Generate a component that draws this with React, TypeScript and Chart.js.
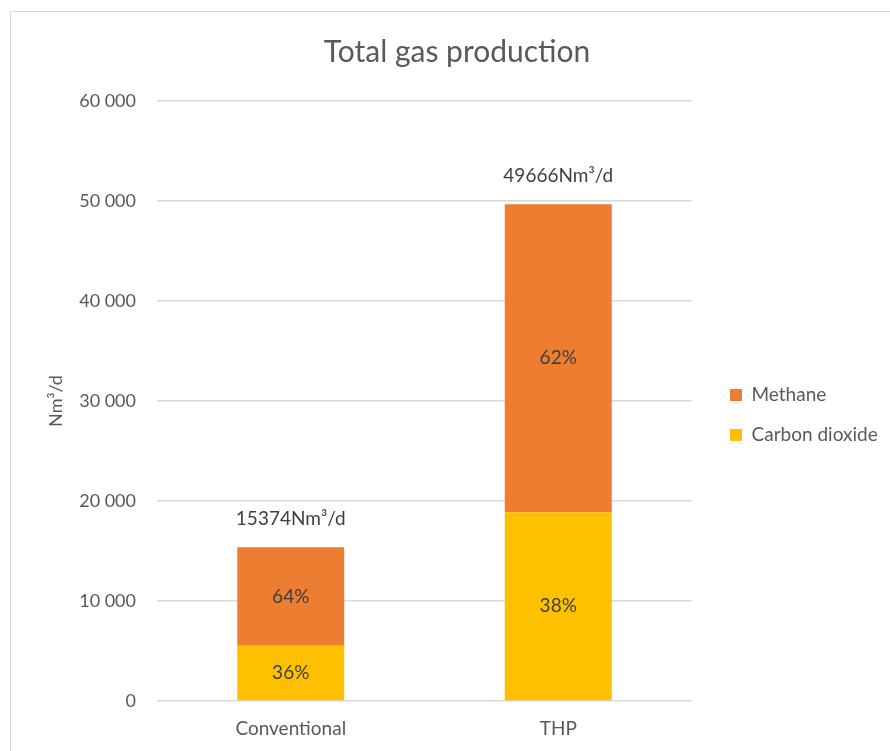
import React, { useEffect, useRef } from 'react';
import { Chart, registerables } from 'chart.js';

Chart.register(...registerables);

// ---- data ----
const categories = ['Conventional', 'THP'];
const seriesNames = ['Carbon dioxide', 'Methane'];
const carbonDioxide = [5535, 18873];
const methane = [9839, 30793];
const carbonDioxideShare = ['36%', '38%'];
const methaneShare = ['64%', '62%'];
const totalLabels = ['15374Nm³/d', '49666Nm³/d'];
const yMin = 0;
const yMax = 60000;
const yStep = 10000;
const chartTitle = 'Total gas production';
const yAxisTitle = 'Nm³/d';

// ---- style ----
const FONT = 'Lato';
const TEXT = '#595959';
const LABEL = '#404040';
const GRID = '#d9d9d9';
const COLORS = ['#FFC000', '#ED7D31'];
const LEGEND_SIZE = 19;
const LEGEND_PAD = 21;
const BOX = 12;
const CANVAS_W = 894;
const CANVAS_H = 808;

const fmt = (v: number) => String(v).replace(/\B(?=(\d{3})+(?!\d))/g, ' ');

const segmentLabels = {
  id: 'segmentLabels',
  afterDatasetsDraw(chart: any) {
    const ctx = chart.ctx;
    ctx.save();
    ctx.font = `19px ${FONT}`;
    ctx.fillStyle = LABEL;
    ctx.textAlign = 'center';
    ctx.textBaseline = 'middle';
    const shares = [carbonDioxideShare, methaneShare];
    const n = chart.data.datasets.length;
    chart.data.datasets.forEach((_ds: any, di: number) => {
      const meta = chart.getDatasetMeta(di);
      meta.data.forEach((bar: any, i: number) => {
        const { x, y, base } = bar.getProps(['x', 'y', 'base'], true);
        ctx.fillText(shares[di][i], x, (y + base) / 2);
        if (di === n - 1) ctx.fillText(totalLabels[i], x, y - 28);
      });
    });
    ctx.restore();
  },
};

export default function App() {
  const ref = useRef<HTMLCanvasElement>(null);

  useEffect(() => {
    const canvas = ref.current!;
    const m = canvas.getContext('2d')!;
    m.font = `${LEGEND_SIZE}px ${FONT}`;
    const tw = Math.max(...seriesNames.map((t) => m.measureText(t).width));
    const itemW = BOX + LEGEND_SIZE / 2 + tw;
    const side = Math.max(0, 164 - itemW);
    const yTitlePad = 46 - side - (18 * 1.2) / 2;

    const chart = new Chart(canvas, {
      type: 'bar',
      data: {
        labels: categories,
        datasets: [
          {
            label: seriesNames[0],
            data: carbonDioxide,
            backgroundColor: COLORS[0],
            borderWidth: 0,
            barPercentage: 0.4,
            categoryPercentage: 1,
          },
          {
            label: seriesNames[1],
            data: methane,
            backgroundColor: COLORS[1],
            borderWidth: 0,
            barPercentage: 0.4,
            categoryPercentage: 1,
          },
        ],
      },
      options: {
        responsive: false,
        animation: false,
        devicePixelRatio: 1,
        layout: { padding: { left: side, right: side, top: 0, bottom: 0 } },
        plugins: {
          title: {
            display: true,
            text: chartTitle,
            color: TEXT,
            font: { family: FONT, size: 30, weight: 'normal' },
            padding: { top: 23, bottom: 31 },
          },
          legend: {
            display: true,
            position: 'right',
            reverse: true,
            maxWidth: 500,
            labels: {
              color: TEXT,
              font: { family: FONT, size: LEGEND_SIZE },
              boxWidth: BOX,
              boxHeight: BOX,
              padding: LEGEND_PAD,
            },
          },
          tooltip: { enabled: false },
        },
        scales: {
          x: {
            stacked: true,
            grid: { display: false },
            border: { display: false },
            ticks: { color: TEXT, font: { family: FONT, size: 19 }, padding: 8 },
            afterFit: (s: any) => {
              s.height = 118;
            },
          },
          y: {
            stacked: true,
            min: yMin,
            max: yMax,
            grid: { color: GRID, lineWidth: 1.5, drawTicks: false },
            border: { display: false },
            ticks: {
              stepSize: yStep,
              color: TEXT,
              font: { family: FONT, size: 18 },
              padding: 21,
              callback: (v: any) => fmt(Number(v)),
            },
            title: {
              display: true,
              text: yAxisTitle,
              color: TEXT,
              font: { family: FONT, size: 18 },
              padding: { top: yTitlePad, bottom: 0 },
            },
            afterFit: (s: any) => {
              s.width = 147 - side;
            },
          },
          gap: {
            type: 'linear',
            position: 'right',
            display: true,
            grid: { display: false },
            border: { display: false },
            ticks: { display: false },
            afterFit: (s: any) => {
              s.width = 720 - LEGEND_PAD - 682;
            },
          },
        },
      } as any,
      plugins: [segmentLabels],
    });
    return () => chart.destroy();
  }, []);

  return (
    <div
      style={{
        position: 'fixed',
        left: 0,
        top: 0,
        width: 890,
        height: 751,
        overflow: 'hidden',
        background: '#fff',
      }}
    >
      <div
        style={{
          position: 'absolute',
          left: 10,
          top: 11,
          width: 900,
          height: 800,
          border: '1.5px solid #d9d9d9',
        }}
      />
      <canvas
        ref={ref}
        width={CANVAS_W}
        height={CANVAS_H}
        style={{ position: 'absolute', left: 10, top: 11 }}
      />
    </div>
  );
}
